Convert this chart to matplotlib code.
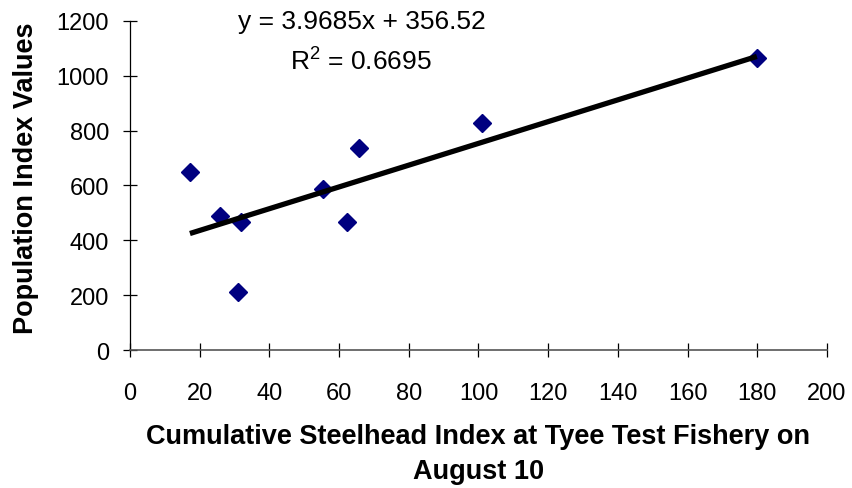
import numpy as np
from matplotlib import pyplot as plt

plt.rcParams['font.family'] = ['Liberation Sans', 'DejaVu Sans']
plt.rcParams['mathtext.fontset'] = 'custom'
plt.rcParams['mathtext.rm'] = 'Liberation Sans'
plt.rcParams['mathtext.default'] = 'rm'

# cumulative steelhead index (Tyee, Aug 10) vs population index
steelhead_idx = [17.2, 25.8, 30.9, 31.8, 55.4, 62.3, 65.8, 100.9, 179.9]
pop_idx = [650, 490, 210, 466, 586, 467, 735, 826, 1066]

# linear trendline reported on the chart
slope = 3.9685
intercept = 356.52
r_squared = 0.6695

x_ticks = list(range(0, 201, 20))
y_ticks = list(range(0, 1201, 200))

fig = plt.figure(figsize=(8.53, 4.89), dpi=100)
ax = fig.add_axes([0.1524, 0.2822, 0.817, 0.673])

xs = np.array([min(steelhead_idx), max(steelhead_idx)])
ax.plot(xs, slope * xs + intercept, color='black', lw=3.8, solid_capstyle='butt', zorder=3)
ax.plot(steelhead_idx, pop_idx, linestyle='none', marker='D', markersize=8.8,
        color='#000080', zorder=2)

ax.set_xlim(0, 200)
ax.set_ylim(0, 1200)
ax.set_xticks(x_ticks)
ax.set_yticks(y_ticks)
ax.tick_params(direction='inout', length=10, width=0.9, labelsize=17, color='black')
ax.tick_params(axis='x', pad=18)
ax.tick_params(axis='y', pad=10)

for s in ['top', 'right']:
    ax.spines[s].set_visible(False)
ax.spines['left'].set_linewidth(0.9)
ax.spines['bottom'].set_linewidth(1.2)
ax.spines['bottom'].set_color('#555555')

ax.set_xlabel('Cumulative Steelhead Index at Tyee Test Fishery on\nAugust 10',
              fontsize=19.5, fontweight='bold', linespacing=1.43, labelpad=14)
ax.set_ylabel('Population Index Values', fontsize=19.5, fontweight='bold')
ax.yaxis.set_label_coords(-0.131, 0.526)

fig.text(0.424, 0.955, f'y = {slope}x + {intercept}', fontsize=19, ha='center', va='center')
fig.text(0.423, 0.873, f'R$^{{2}}$ = {r_squared}', fontsize=19, ha='center', va='center')

fig.savefig('out.png', dpi=100)
